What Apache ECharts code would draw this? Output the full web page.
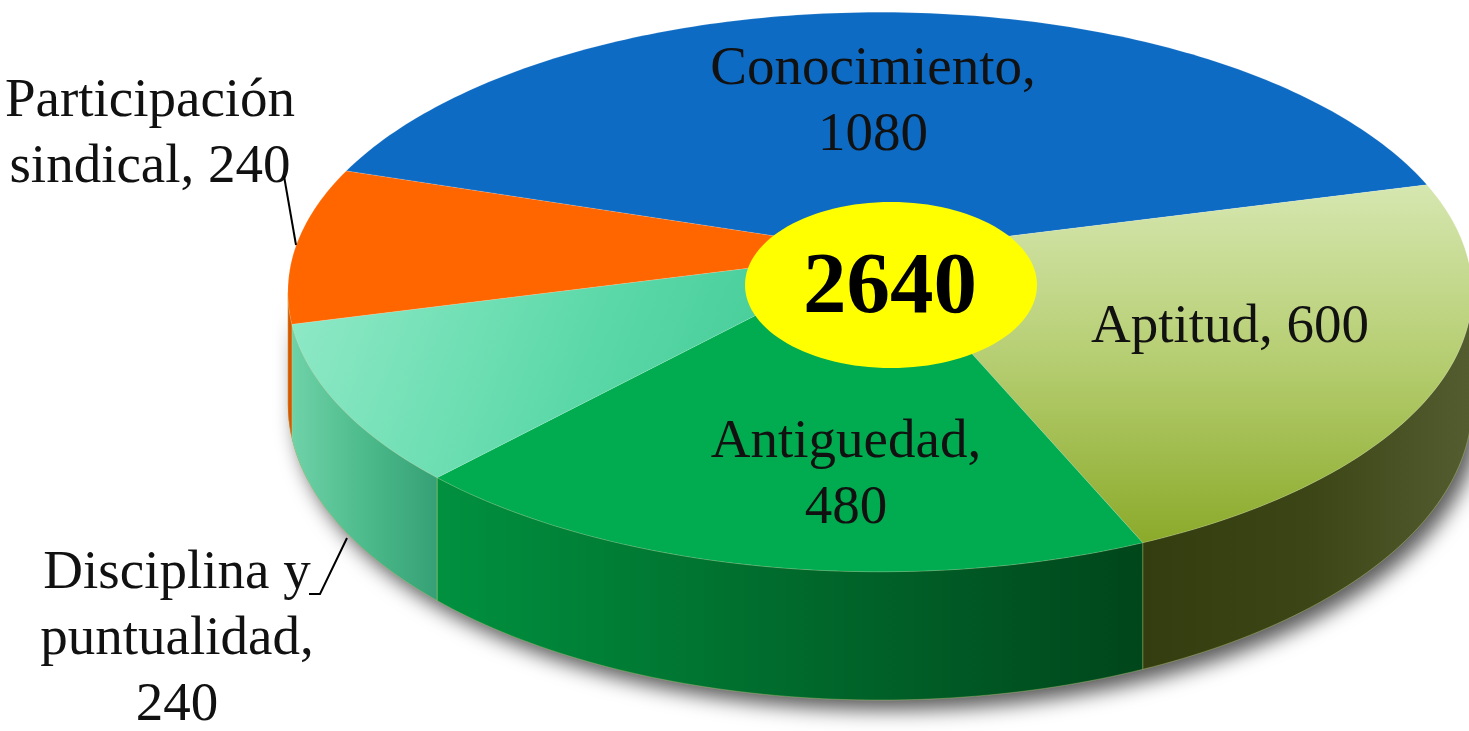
<!DOCTYPE html>
<html><head><meta charset="utf-8">
<script src="https://cdn.jsdelivr.net/npm/echarts@6/dist/echarts.min.js"></script>
<style>html,body{margin:0;padding:0;background:#fff;overflow:hidden}#c{width:1469px;height:731px}</style>
</head><body><div id="c"></div>
<script>
// ---- data ----
const categories = ['Conocimiento', 'Aptitud', 'Antiguedad', 'Disciplina y puntualidad', 'Participación sindical'];
const values = [1080, 600, 480, 240, 240];
const labelTemplates = ['Conocimiento,\n{v}', 'Aptitud, {v}', 'Antiguedad,\n{v}', 'Disciplina y\npuntualidad,\n{v}', 'Participación\nsindical, {v}'];

// ---- layout / style ----
// perspective disc: x = CX + A*u/(1-K*v), y = CY + B*v/(1-K*v)
const CX = 880, CY = 252, A = 586, B = 274, K = 0.143, DEPTH = 110, START = 198;
const labelPos = [[873, 103], [1230, 328], [846, 476], [177, 640], [150, 135]];
const leaders = [null, null, null, [[309, 594], [320, 594], [347, 538]], [[284, 176], [296, 245]]];
const lg = (x2, y2, stops) => new echarts.graphic.LinearGradient(0, 0, x2, y2, stops.map((c, i) => ({offset: i / (stops.length - 1), color: c})));
const topFill = [
  '#0E6BC3',
  lg(0, 1, ['#D6E7B0', '#B5CD70', '#8BAA2A']),
  '#00AC4F',
  lg(1, 1, ['#92EAC8', '#5BD8A8', '#35C48C']),
  '#FF6600'
];
const wallFill = [
  '#0A4F90',
  lg(1, 0, ['#343D0F', '#3B4515', '#545D30']),
  lg(1, 0, ['#00913F', '#006A2C', '#00461B']),
  lg(1, 0, ['#6FD2A8', '#4DBB8C', '#35A075']),
  '#D95500'
];

const total = values.reduce((a, b) => a + b, 0);
const starts = [];
{ let acc = 0; values.forEach(v => { starts.push(START + acc / total * 360); acc += v; }); }

function pt(deg, bottom) {
  const r = deg * Math.PI / 180;
  const u = Math.cos(r), v = Math.sin(r), s = 1 / (1 - K * v);
  return [CX + A * u * s, CY + B * v * s + (bottom ? DEPTH * s : 0)];
}
function arc(a, b, bottom) {
  const pts = [];
  const n = Math.max(2, Math.ceil(Math.abs(b - a)));
  for (let i = 0; i <= n; i++) pts.push(pt(a + (b - a) * i / n, bottom));
  return pts;
}
const VIS0 = Math.asin(K) * 180 / Math.PI, VIS1 = 180 - VIS0;

function renderItem(params, api) {
  const i = params.dataIndex;
  const v = api.value(0);
  const a = starts[i], b = a + v / total * 360;
  const children = [];
  children.push({type: 'polygon', z2: 10, shape: {points: [[CX, CY]].concat(arc(a, b, false))},
    style: {fill: topFill[i], stroke: 'rgba(255,255,255,0.12)', lineWidth: 1}});
  for (const k of [0, 360, 720]) {
    const s = Math.max(a, k + VIS0), e = Math.min(b, k + VIS1);
    if (e > s) {
      const pts = arc(s, e, false).concat(arc(e, s, true));
      children.push({type: 'polygon', z2: 5, shape: {points: pts},
        style: {fill: wallFill[i], stroke: 'rgba(200,220,120,0.35)', lineWidth: 1}});
    }
  }
  if (i === 0) {
    const pts = arc(VIS0, VIS1, false).concat(arc(VIS1, VIS0, true));
    children.push({type: 'polygon', z2: 1, shape: {points: pts},
      style: {fill: '#666', shadowColor: 'rgba(0,0,0,0.65)', shadowBlur: 20, shadowOffsetX: 8, shadowOffsetY: 10}});
    children.push({type: 'ellipse', z2: 40, shape: {cx: 891, cy: 285, rx: 146, ry: 83}, style: {fill: '#FFFF00'}});
    children.push({type: 'text', z2: 41, style: {text: String(total), x: 890, y: 290, align: 'center', verticalAlign: 'middle',
      fontFamily: '"Liberation Serif", serif', fontWeight: 'bold', fontSize: 87, fill: '#000'}});
  }
  children.push({type: 'text', z2: 30, style: {
    text: labelTemplates[i].replace('{v}', v), x: labelPos[i][0], y: labelPos[i][1],
    fontFamily: '"Liberation Serif", serif', fontSize: 55, fill: '#111',
    align: 'center', verticalAlign: 'middle', lineHeight: 66}});
  if (leaders[i]) {
    children.push({type: 'polyline', z2: 30, shape: {points: leaders[i]}, style: {stroke: '#000', lineWidth: 2, fill: null}});
  }
  return {type: 'group', children};
}

const chart = echarts.init(document.getElementById('c'));
chart.setOption({
  animation: false,
  series: [{
    type: 'custom',
    coordinateSystem: 'none',
    renderItem,
    data: values.map((v, i) => ({name: categories[i], value: [v]}))
  }]
});
</script></body></html>
